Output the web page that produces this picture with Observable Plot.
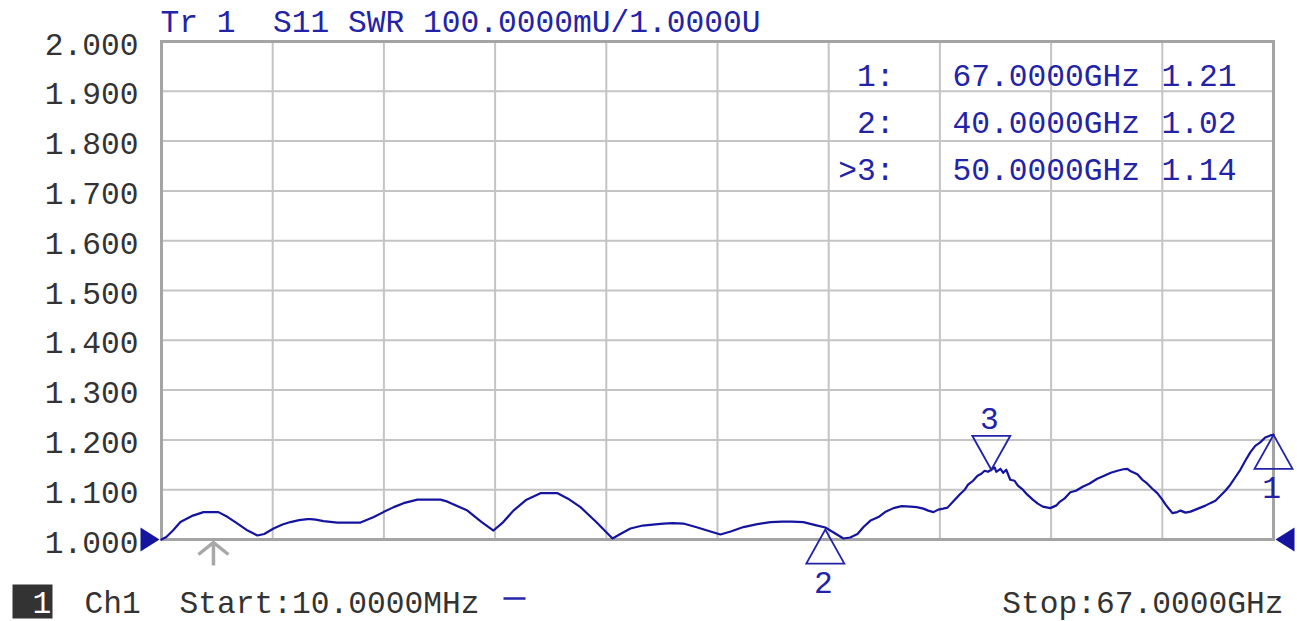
<!DOCTYPE html>
<html><head><meta charset="utf-8">
<script src="https://cdn.jsdelivr.net/npm/d3@7"></script>
<script src="https://cdn.jsdelivr.net/npm/@observablehq/plot@0.6"></script>
<style>html,body{margin:0;padding:0;background:#fff;overflow:hidden;}</style>
</head><body><div id="chart"></div>
<script>
// ---- data ----
const freqGHz = [0.01,0.3,0.7,1.15,1.9,2.54,3.44,4.0,4.59,5.2,5.79,6.2,6.76,7.3,7.78,8.3,8.81,9.0,9.3,9.77,10.61,12.0,12.8,13.38,14.0,14.59,15.43,16.82,17.24,18.44,19.3,20.01,20.6,21.21,22.0,22.84,23.87,24.5,25.25,26.2,27.18,27.6,28.26,29.0,29.6,30.25,30.8,31.45,32.3,33.08,33.68,34.3,35.07,35.9,36.7,37.4,38.0,38.68,39.4,40.0,40.6,41.09,41.5,41.94,42.3,42.72,43.0,43.2,43.6,44.11,44.6,45.13,45.5,45.91,46.2,46.52,46.8,47.1,47.36,47.8,48.14,48.4,48.6,48.9,49.17,49.4,49.6,49.8,50.0,50.2,50.3,50.55,50.72,50.9,51.14,51.4,51.6,51.9,52.17,52.5,52.8,53.1,53.55,53.9,54.1,54.4,54.76,55.1,55.5,55.9,56.38,56.8,57.2,57.6,57.95,58.2,58.4,58.8,59.1,59.4,59.7,60.0,60.3,60.5,60.91,61.2,61.4,61.7,62.0,62.3,62.6,62.9,63.19,63.5,63.8,64.1,64.4,64.7,65.0,65.3,65.6,65.9,66.2,66.5,66.81,67.0];
const swr = [1.000,1.005,1.018,1.035,1.048,1.055,1.055,1.045,1.032,1.018,1.008,1.011,1.022,1.030,1.035,1.039,1.041,1.041,1.040,1.037,1.034,1.034,1.045,1.055,1.065,1.073,1.080,1.080,1.076,1.058,1.035,1.018,1.035,1.058,1.080,1.093,1.093,1.082,1.065,1.035,1.002,1.010,1.022,1.028,1.030,1.032,1.033,1.032,1.024,1.016,1.010,1.016,1.025,1.031,1.035,1.036,1.036,1.035,1.029,1.024,1.012,1.002,1.004,1.011,1.025,1.038,1.042,1.045,1.055,1.063,1.067,1.066,1.065,1.062,1.058,1.055,1.060,1.062,1.064,1.080,1.092,1.100,1.110,1.118,1.128,1.132,1.138,1.136,1.140,1.145,1.136,1.142,1.134,1.140,1.120,1.118,1.108,1.100,1.090,1.080,1.072,1.066,1.063,1.068,1.075,1.082,1.095,1.098,1.106,1.112,1.122,1.128,1.134,1.138,1.141,1.142,1.137,1.131,1.120,1.112,1.102,1.093,1.080,1.070,1.053,1.055,1.058,1.054,1.056,1.060,1.064,1.068,1.073,1.078,1.088,1.098,1.110,1.125,1.140,1.158,1.175,1.188,1.195,1.205,1.209,1.210];
const yTicks = [1.0,1.1,1.2,1.3,1.4,1.5,1.6,1.7,1.8,1.9,2.0];
const startGHz = 0.01, stopGHz = 67, xDivisions = 10;
const markerIds = [1, 2, 3];
const markerFreqGHz = [67, 40, 50];
const markerSwr = [1.21, 1.02, 1.14];
const markerFreqText = ["67.0000GHz", "40.0000GHz", "50.0000GHz"];
const activeMarker = 3;
const startIndicatorGHz = [3.14];
const titleText = "Tr 1  S11 SWR 100.0000mU/1.0000U";
const channelText = "Ch1";
const startText = "Start:10.0000MHz";
const stopText = "Stop:67.0000GHz";

// ---- derived tables ----
const trace = freqGHz.map((f, i) => ({f, v: swr[i]}));
const markers = markerIds.map((id, i) => ({id, f: markerFreqGHz[i], v: markerSwr[i], active: id === activeMarker}));
const xTicks = d3.range(xDivisions + 1).map(i => startGHz + i * (stopGHz - startGHz) / xDivisions);

// ---- custom symbols ----
const TW = 19, TH = 34;
const triUp = {draw(c){ c.moveTo(0,0); c.lineTo(-TW,TH); c.lineTo(TW,TH); c.closePath(); }};
const triDown = {draw(c){ c.moveTo(0,0); c.lineTo(-TW,-TH); c.lineTo(TW,-TH); c.closePath(); }};
const refRight = {draw(c){ c.moveTo(-2,0); c.lineTo(-21,-12); c.lineTo(-21,12); c.closePath(); }};
const refLeft = {draw(c){ c.moveTo(2,0); c.lineTo(21,-12); c.lineTo(21,12); c.closePath(); }};
const chevron = {draw(c){ c.moveTo(-15,15); c.lineTo(0,3); c.lineTo(15,15); c.moveTo(0,3); c.lineTo(0,26); }};
const box = {draw(c){ c.rect(-20,-17,40,34); }};
const dash = {draw(c){ c.moveTo(-11,0); c.lineTo(11,0); }};

const FONT = "Liberation Mono";
const FS = 31.25;
const BLUE = "#2323a8";
const NAVY = "#14149e";
const GRAY = "#333333";
const T = {fontSize: FS, fontFamily: FONT, lineAnchor: "middle"};

const chart = Plot.plot({
  width: 1297, height: 621,
  marginLeft: 161, marginRight: 24, marginTop: 41, marginBottom: 82,
  x: {domain: [startGHz, stopGHz], axis: null},
  y: {domain: [1, 2], axis: null},
  style: {background: "#fff", fontFamily: FONT, overflow: "visible"},
  marks: [
    Plot.gridX(xTicks, {stroke: "#c4c4c4", strokeOpacity: 1, strokeWidth: 2}),
    Plot.gridY(yTicks, {stroke: "#c4c4c4", strokeOpacity: 1, strokeWidth: 2}),
    Plot.frame({stroke: "#a4a4a4", strokeWidth: 3}),
    // y tick labels
    Plot.text(yTicks, {...T, y: d => d, text: d => d.toFixed(3), frameAnchor: "left", textAnchor: "end", dx: -23, dy: 3, fill: GRAY}),
    // title
    Plot.text([titleText], {...T, text: d => d, frameAnchor: "top-left", textAnchor: "start", dx: -1, dy: -20, fill: BLUE}),
    // marker table (lines built from arrays)
    Plot.text([markers.map(m => (m.active ? ">" : "") + m.id + ":").join("\n")], {...T, text: d => d, frameAnchor: "top-left", textAnchor: "end", dx: 733, dy: 76, lineHeight: 47 / FS, fill: BLUE}),
    Plot.text([markerFreqText.join("\n")], {...T, text: d => d, frameAnchor: "top-left", textAnchor: "start", dx: 791, dy: 76, lineHeight: 47 / FS, fill: BLUE}),
    Plot.text([markerSwr.map(v => v.toFixed(2)).join("\n")], {...T, text: d => d, frameAnchor: "top-left", textAnchor: "start", dx: 1000, dy: 76, lineHeight: 47 / FS, fill: BLUE}),
    // trace
    Plot.line(trace, {x: "f", y: "v", stroke: NAVY, strokeWidth: 2.2, strokeLinejoin: "round"}),
    // reference level arrows
    Plot.dot([startGHz], {x: d => d, y: () => 1, symbol: refRight, fill: NAVY, stroke: "none"}),
    Plot.dot([stopGHz], {x: d => d, y: () => 1, symbol: refLeft, fill: NAVY, stroke: "none"}),
    // start indicator
    Plot.dot(startIndicatorGHz, {x: d => d, y: () => 1, symbol: chevron, fill: "none", stroke: "#a8a8a8", strokeWidth: 3.5}),
    // markers
    Plot.dot(markers.filter(m => !m.active), {x: "f", y: "v", symbol: triUp, fill: "none", stroke: BLUE, strokeWidth: 1.8}),
    Plot.dot(markers.filter(m => m.active), {x: "f", y: "v", symbol: triDown, fill: "none", stroke: BLUE, strokeWidth: 1.8}),
    Plot.text(markers.filter(m => !m.active), {...T, x: "f", y: "v", text: "id", dy: 53, dx: -2, fill: BLUE}),
    Plot.text(markers.filter(m => m.active), {...T, x: "f", y: "v", text: "id", dy: -51, dx: -2, fill: BLUE}),
    // bottom status bar
    Plot.dot([1], {frameAnchor: "bottom-left", dx: -129, dy: 62, symbol: box, fill: "#333", stroke: "none"}),
    Plot.text(["1"], {...T, text: d => d, frameAnchor: "bottom-left", dx: -129, dy: 63, fill: "#fff"}),
    Plot.text([channelText], {...T, text: d => d, frameAnchor: "bottom-left", textAnchor: "start", dx: -77, dy: 63, fill: GRAY}),
    Plot.text([startText], {...T, text: d => d, frameAnchor: "bottom-left", textAnchor: "start", dx: 18, dy: 63, fill: GRAY}),
    Plot.dot([1], {frameAnchor: "bottom-left", dx: 353, dy: 59, symbol: dash, fill: "none", stroke: BLUE, strokeWidth: 2.5}),
    Plot.text([stopText], {...T, text: d => d, frameAnchor: "bottom-right", textAnchor: "end", dx: 10, dy: 63, fill: GRAY})
  ]
});
document.getElementById("chart").appendChild(chart);
</script>
</body></html>
